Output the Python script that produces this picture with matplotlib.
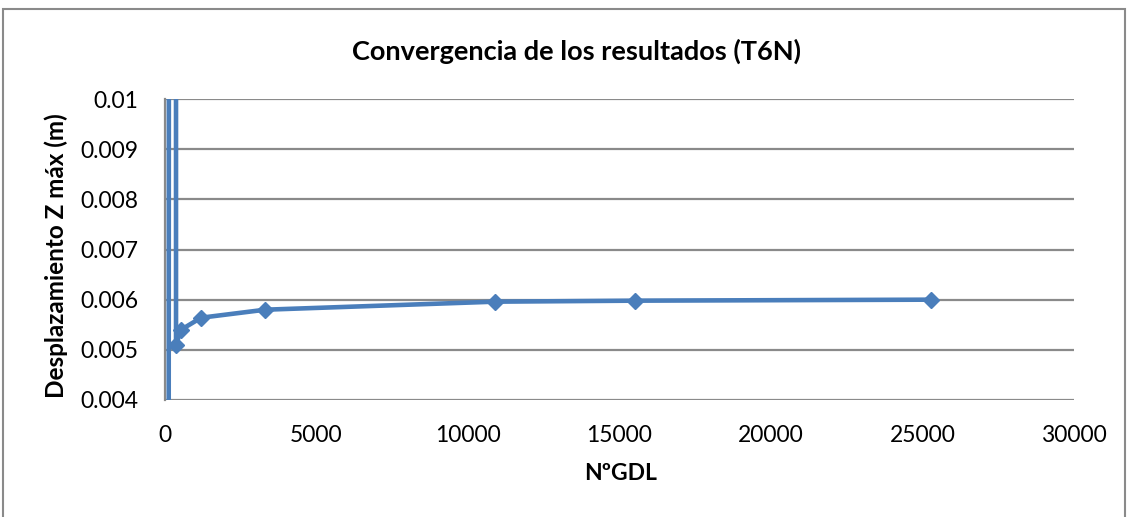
import matplotlib
matplotlib.use("Agg")
import matplotlib.pyplot as plt
from matplotlib.patches import Rectangle

# data (NºGDL vs max Z displacement)
gdl = [120, 330, 364, 529, 1190, 3308, 10883, 15514, 25273]
desp_z = [0.0, 0.3, 0.0051, 0.0054, 0.00564, 0.0058, 0.00596, 0.00598, 0.0060]

x_ticks = [0, 5000, 10000, 15000, 20000, 25000, 30000]
y_ticks = [0.004, 0.005, 0.006, 0.007, 0.008, 0.009, 0.01]
y_tick_labels = ["0.004", "0.005", "0.006", "0.007", "0.008", "0.009", "0.01"]

title = "Convergencia de los resultados (T6N)"
x_label = "NºGDL"
y_label = "Desplazamiento Z máx (m)"

plt.rcParams["font.family"] = ["Lato", "DejaVu Sans"]

fig = plt.figure(figsize=(11.29, 5.17), dpi=100)
ax = fig.add_axes([165 / 1129, 1 - 400 / 517, (1074 - 165) / 1129, (400 - 99) / 517])

ax.plot(gdl, desp_z, color="#4A7EBB", lw=3.3, marker="D", ms=8.5,
        markerfacecolor="#4A7EBB", markeredgecolor="#4A7EBB", zorder=3)

ax.set_xlim(0, 30000)
ax.set_ylim(0.004, 0.01)
ax.set_xticks(x_ticks)
ax.set_xticklabels([str(t) for t in x_ticks])
ax.set_yticks(y_ticks)
ax.set_yticklabels(y_tick_labels)
ax.tick_params(axis="both", length=0, labelsize=16.5)
ax.tick_params(axis="y", pad=19)
ax.tick_params(axis="x", pad=18)

ax.grid(axis="y", color="#8a8a8a", lw=1.6)
ax.set_axisbelow(True)
for s in ["top", "right", "bottom"]:
    ax.spines[s].set_visible(False)
ax.spines["left"].set_color("#8a8a8a")
ax.spines["left"].set_linewidth(1.6)

fig.text(577 / 1129, 1 - 51 / 517, title, ha="center", va="center",
         fontsize=19.5, fontweight="bold")
fig.text(621 / 1129, 1 - 473 / 517, x_label, ha="center", va="center",
         fontsize=16.5, fontweight="bold")
fig.text(56 / 1129, 1 - 256 / 517, y_label, ha="center", va="center",
         rotation=90, fontsize=17.5, fontweight="bold")

# outer chart border
fig.patches.append(Rectangle((3 / 1129, -0.05), 1122 / 1129, 1.05 - 9 / 517,
                             transform=fig.transFigure, fill=False,
                             edgecolor="#8a8a8a", lw=1.5))

fig.savefig("out.png", dpi=100)
plt.close(fig)
